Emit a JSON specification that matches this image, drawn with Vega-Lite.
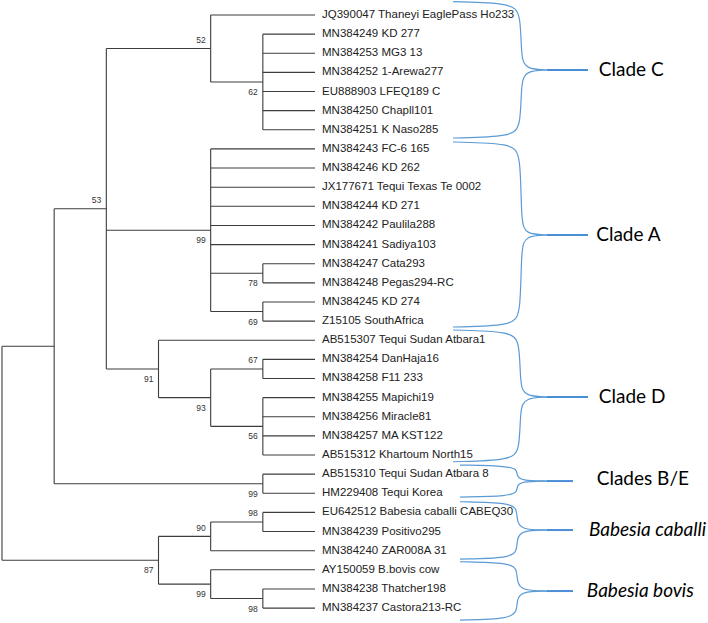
{
  "$schema": "https://vega.github.io/schema/vega-lite/v6.json",
  "width": 708,
  "height": 623,
  "autosize": {"type": "none"},
  "padding": 0,
  "background": "white",
  "config": {"view": {"stroke": null}},
  "datasets": {
    "branches": [
      {"x0":0,"x1":0,"y0":17.3125,"y1":28.5},{"x0":1,"x1":1,"y0":10.125,"y1":24.5},{"x0":2,"x1":2,"y0":1.75,"y1":18.5},
      {"x0":4,"x1":4,"y0":0,"y1":3.5},{"x0":5,"x1":5,"y0":1,"y1":6},{"x0":4,"x1":4,"y0":7,"y1":15.5},
      {"x0":5,"x1":5,"y0":13,"y1":14},{"x0":5,"x1":5,"y0":15,"y1":16},{"x0":3,"x1":3,"y0":17,"y1":20},
      {"x0":4,"x1":4,"y0":18.5,"y1":21.5},{"x0":5,"x1":5,"y0":18,"y1":19},{"x0":5,"x1":5,"y0":20,"y1":23},
      {"x0":5,"x1":5,"y0":24,"y1":25},{"x0":3,"x1":3,"y0":27.25,"y1":29.75},{"x0":4,"x1":4,"y0":26.5,"y1":28},
      {"x0":5,"x1":5,"y0":26,"y1":27},{"x0":4,"x1":4,"y0":29,"y1":30.5},{"x0":5,"x1":5,"y0":30,"y1":31},
      {"x0":0,"x1":1,"y0":17.3125,"y1":17.3125},{"x0":0,"x1":3,"y0":28.5,"y1":28.5},{"x0":1,"x1":2,"y0":10.125,"y1":10.125},
      {"x0":1,"x1":5,"y0":24.5,"y1":24.5},{"x0":2,"x1":4,"y0":1.75,"y1":1.75},{"x0":2,"x1":4,"y0":11.25,"y1":11.25},
      {"x0":2,"x1":3,"y0":18.5,"y1":18.5},{"x0":4,"x1":6,"y0":0,"y1":0},{"x0":4,"x1":5,"y0":3.5,"y1":3.5},
      {"x0":5,"x1":6,"y0":1,"y1":1},{"x0":5,"x1":6,"y0":2,"y1":2},{"x0":5,"x1":6,"y0":3,"y1":3},
      {"x0":5,"x1":6,"y0":4,"y1":4},{"x0":5,"x1":6,"y0":5,"y1":5},{"x0":5,"x1":6,"y0":6,"y1":6},
      {"x0":4,"x1":6,"y0":7,"y1":7},{"x0":4,"x1":6,"y0":8,"y1":8},{"x0":4,"x1":6,"y0":9,"y1":9},
      {"x0":4,"x1":6,"y0":10,"y1":10},{"x0":4,"x1":6,"y0":11,"y1":11},{"x0":4,"x1":6,"y0":12,"y1":12},
      {"x0":4,"x1":5,"y0":13.5,"y1":13.5},{"x0":4,"x1":5,"y0":15.5,"y1":15.5},
      {"x0":5,"x1":6,"y0":13,"y1":13},{"x0":5,"x1":6,"y0":14,"y1":14},{"x0":5,"x1":6,"y0":15,"y1":15},{"x0":5,"x1":6,"y0":16,"y1":16},
      {"x0":3,"x1":6,"y0":17,"y1":17},{"x0":3,"x1":4,"y0":20,"y1":20},{"x0":4,"x1":5,"y0":18.5,"y1":18.5},{"x0":4,"x1":5,"y0":21.5,"y1":21.5},
      {"x0":5,"x1":6,"y0":18,"y1":18},{"x0":5,"x1":6,"y0":19,"y1":19},{"x0":5,"x1":6,"y0":20,"y1":20},
      {"x0":5,"x1":6,"y0":21,"y1":21},{"x0":5,"x1":6,"y0":22,"y1":22},{"x0":5,"x1":6,"y0":23,"y1":23},
      {"x0":5,"x1":6,"y0":24,"y1":24},{"x0":5,"x1":6,"y0":25,"y1":25},
      {"x0":3,"x1":4,"y0":27.25,"y1":27.25},{"x0":3,"x1":4,"y0":29.75,"y1":29.75},{"x0":4,"x1":5,"y0":26.5,"y1":26.5},
      {"x0":4,"x1":6,"y0":28,"y1":28},{"x0":5,"x1":6,"y0":26,"y1":26},{"x0":5,"x1":6,"y0":27,"y1":27},
      {"x0":4,"x1":6,"y0":29,"y1":29},{"x0":4,"x1":5,"y0":30.5,"y1":30.5},{"x0":5,"x1":6,"y0":30,"y1":30},{"x0":5,"x1":6,"y0":31,"y1":31}
    ],
    "leaves": [
      {"i":0,"depth":6,"name":"JQ390047 Thaneyi EaglePass Ho233"},
      {"i":1,"depth":6,"name":"MN384249 KD 277"},
      {"i":2,"depth":6,"name":"MN384253 MG3 13"},
      {"i":3,"depth":6,"name":"MN384252 1-Arewa277"},
      {"i":4,"depth":6,"name":"EU888903 LFEQ189 C"},
      {"i":5,"depth":6,"name":"MN384250 Chapll101"},
      {"i":6,"depth":6,"name":"MN384251 K Naso285"},
      {"i":7,"depth":6,"name":"MN384243 FC-6 165"},
      {"i":8,"depth":6,"name":"MN384246 KD 262"},
      {"i":9,"depth":6,"name":"JX177671 Tequi Texas Te 0002"},
      {"i":10,"depth":6,"name":"MN384244 KD 271"},
      {"i":11,"depth":6,"name":"MN384242 Paulila288"},
      {"i":12,"depth":6,"name":"MN384241 Sadiya103"},
      {"i":13,"depth":6,"name":"MN384247 Cata293"},
      {"i":14,"depth":6,"name":"MN384248 Pegas294-RC"},
      {"i":15,"depth":6,"name":"MN384245 KD 274"},
      {"i":16,"depth":6,"name":"Z15105 SouthAfrica"},
      {"i":17,"depth":6,"name":"AB515307 Tequi Sudan Atbara1"},
      {"i":18,"depth":6,"name":"MN384254 DanHaja16"},
      {"i":19,"depth":6,"name":"MN384258 F11 233"},
      {"i":20,"depth":6,"name":"MN384255 Mapichi19"},
      {"i":21,"depth":6,"name":"MN384256 Miracle81"},
      {"i":22,"depth":6,"name":"MN384257 MA KST122"},
      {"i":23,"depth":6,"name":"AB515312 Khartoum North15"},
      {"i":24,"depth":6,"name":"AB515310 Tequi Sudan Atbara 8"},
      {"i":25,"depth":6,"name":"HM229408 Tequi Korea"},
      {"i":26,"depth":6,"name":"EU642512 Babesia caballi CABEQ30"},
      {"i":27,"depth":6,"name":"MN384239 Positivo295"},
      {"i":28,"depth":6,"name":"MN384240 ZAR008A 31"},
      {"i":29,"depth":6,"name":"AY150059 B.bovis cow"},
      {"i":30,"depth":6,"name":"MN384238 Thatcher198"},
      {"i":31,"depth":6,"name":"MN384237 Castora213-RC"}
    ],
    "support": [
      {"bs":"52","d":4,"y":1.75,"side":"above"},
      {"bs":"62","d":5,"y":3.5,"side":"below"},
      {"bs":"53","d":2,"y":10.125,"side":"above"},
      {"bs":"99","d":4,"y":11.25,"side":"below"},
      {"bs":"78","d":5,"y":13.5,"side":"below"},
      {"bs":"69","d":5,"y":15.5,"side":"below"},
      {"bs":"91","d":3,"y":18.5,"side":"below"},
      {"bs":"67","d":5,"y":18.5,"side":"above"},
      {"bs":"93","d":4,"y":20,"side":"below"},
      {"bs":"56","d":5,"y":21.5,"side":"below"},
      {"bs":"99","d":5,"y":24.5,"side":"below"},
      {"bs":"98","d":5,"y":26.5,"side":"above"},
      {"bs":"90","d":4,"y":27.25,"side":"above"},
      {"bs":"87","d":3,"y":28.5,"side":"below"},
      {"bs":"99","d":4,"y":29.75,"side":"below"},
      {"bs":"98","d":5,"y":30.5,"side":"below"}
    ],
    "braces": [
      {"b":"C1","o":0,"x":8.645,"y":-0.695},{"b":"C1","o":1,"x":9.776,"y":-0.627},{"b":"C1","o":2,"x":9.948,"y":-0.052},{"b":"C1","o":3,"x":9.948,"y":2.248},{"b":"C1","o":4,"x":10.044,"y":2.823},{"b":"C1","o":5,"x":10.447,"y":2.875},
      {"b":"C2","o":0,"x":10.447,"y":2.875},{"b":"C2","o":1,"x":10.044,"y":2.927},{"b":"C2","o":2,"x":9.948,"y":3.502},{"b":"C2","o":3,"x":9.948,"y":5.802},{"b":"C2","o":4,"x":9.776,"y":6.362},{"b":"C2","o":5,"x":8.645,"y":6.43},
      {"b":"A1","o":0,"x":8.645,"y":6.639},{"b":"A1","o":1,"x":9.776,"y":6.707},{"b":"A1","o":2,"x":9.948,"y":7.266},{"b":"A1","o":3,"x":9.948,"y":10.873},{"b":"A1","o":4,"x":10.044,"y":11.448},{"b":"A1","o":5,"x":10.447,"y":11.5},
      {"b":"A2","o":0,"x":10.447,"y":11.5},{"b":"A2","o":1,"x":10.044,"y":11.552},{"b":"A2","o":2,"x":9.948,"y":12.127},{"b":"A2","o":3,"x":9.948,"y":15.682},{"b":"A2","o":4,"x":9.776,"y":16.241},{"b":"A2","o":5,"x":8.645,"y":16.309},
      {"b":"D1","o":0,"x":8.645,"y":16.466},{"b":"D1","o":1,"x":9.757,"y":16.534},{"b":"D1","o":2,"x":9.929,"y":17.093},{"b":"D1","o":3,"x":9.929,"y":19.341},{"b":"D1","o":4,"x":10.025,"y":19.916},{"b":"D1","o":5,"x":10.447,"y":19.969},
      {"b":"D2","o":0,"x":10.447,"y":19.969},{"b":"D2","o":1,"x":10.025,"y":20.021},{"b":"D2","o":2,"x":9.929,"y":20.596},{"b":"D2","o":3,"x":9.929,"y":22.739},{"b":"D2","o":4,"x":9.757,"y":23.283},{"b":"D2","o":5,"x":8.645,"y":23.351},
      {"b":"BE1","o":0,"x":8.779,"y":23.523},{"b":"BE1","o":1,"x":9.738,"y":23.576},{"b":"BE1","o":2,"x":9.872,"y":23.785},{"b":"BE1","o":3,"x":9.872,"y":24.099},{"b":"BE1","o":4,"x":9.948,"y":24.334},{"b":"BE1","o":5,"x":10.447,"y":24.36},
      {"b":"BE2","o":0,"x":10.447,"y":24.36},{"b":"BE2","o":1,"x":9.948,"y":24.386},{"b":"BE2","o":2,"x":9.872,"y":24.621},{"b":"BE2","o":3,"x":9.872,"y":24.935},{"b":"BE2","o":4,"x":9.738,"y":25.144},{"b":"BE2","o":5,"x":8.779,"y":25.196},
      {"b":"CB1","o":0,"x":8.779,"y":25.442},{"b":"CB1","o":1,"x":9.738,"y":25.494},{"b":"CB1","o":2,"x":9.872,"y":25.823},{"b":"CB1","o":3,"x":9.872,"y":26.45},{"b":"CB1","o":4,"x":9.948,"y":26.895},{"b":"CB1","o":5,"x":10.447,"y":26.921},
      {"b":"CB2","o":0,"x":10.447,"y":26.921},{"b":"CB2","o":1,"x":9.948,"y":26.947},{"b":"CB2","o":2,"x":9.872,"y":27.391},{"b":"CB2","o":3,"x":9.872,"y":28.019},{"b":"CB2","o":4,"x":9.738,"y":28.385},{"b":"CB2","o":5,"x":8.779,"y":28.437},
      {"b":"BV1","o":0,"x":8.779,"y":28.578},{"b":"BV1","o":1,"x":9.738,"y":28.631},{"b":"BV1","o":2,"x":9.872,"y":28.96},{"b":"BV1","o":3,"x":9.872,"y":29.587},{"b":"BV1","o":4,"x":9.948,"y":30.084},{"b":"BV1","o":5,"x":10.447,"y":30.11},
      {"b":"BV2","o":0,"x":10.447,"y":30.11},{"b":"BV2","o":1,"x":9.948,"y":30.136},{"b":"BV2","o":2,"x":9.872,"y":30.58},{"b":"BV2","o":3,"x":9.872,"y":31.155},{"b":"BV2","o":4,"x":9.738,"y":31.573},{"b":"BV2","o":5,"x":8.779,"y":31.625}
    ],
    "tips": [
      {"c":"C","x0":10.447,"x1":11.233,"y":2.875},
      {"c":"A","x0":10.447,"x1":11.233,"y":11.5},
      {"c":"D","x0":10.447,"x1":11.233,"y":19.969},
      {"c":"BE","x0":10.447,"x1":10.945,"y":24.36},
      {"c":"CB","x0":10.447,"x1":10.945,"y":26.921},
      {"c":"BV","x0":10.447,"x1":10.945,"y":30.11}
    ],
    "clades": [
      {"t":"Clade C","x":11.44,"y":2.875,"g":"genotype"},
      {"t":"Clade A","x":11.39,"y":11.5,"g":"genotype"},
      {"t":"Clade D","x":11.44,"y":19.969,"g":"genotype"},
      {"t":"Clades B/E","x":11.4,"y":24.25,"g":"genotype"},
      {"t":"Babesia caballi","x":11.25,"y":26.92,"g":"species"},
      {"t":"Babesia bovis","x":11.21,"y":30.11,"g":"species"}
    ]
  },
  "layer": [
    {
      "data": {"name": "braces"},
      "mark": {"type": "line", "interpolate": "basis", "stroke": "#5b9bd5", "strokeWidth": 1.2},
      "encoding": {
        "x": {"field": "x", "type": "quantitative", "scale": {"domain": [-0.0383, 13.533], "nice": false, "zero": false}, "axis": null},
        "y": {"field": "y", "type": "quantitative", "scale": {"domain": [-0.784, 31.78], "reverse": true, "nice": false, "zero": false}, "axis": null},
        "detail": {"field": "b"},
        "order": {"field": "o", "type": "quantitative"}
      }
    },
    {
      "data": {"name": "tips"},
      "mark": {"type": "rule", "stroke": "#4a8fd6", "strokeWidth": 2},
      "encoding": {
        "x": {"field": "x0", "type": "quantitative", "scale": {"domain": [-0.0383, 13.533], "nice": false, "zero": false}, "axis": null},
        "x2": {"field": "x1"},
        "y": {"field": "y", "type": "quantitative", "scale": {"domain": [-0.784, 31.78], "reverse": true, "nice": false, "zero": false}, "axis": null}
      }
    },
    {
      "data": {"name": "branches"},
      "mark": {"type": "rule", "stroke": "#3c3c3c", "strokeWidth": 1.1},
      "encoding": {
        "x": {"field": "x0", "type": "quantitative", "scale": {"domain": [-0.0383, 13.533], "nice": false, "zero": false}, "axis": null},
        "x2": {"field": "x1"},
        "y": {"field": "y0", "type": "quantitative", "scale": {"domain": [-0.784, 31.78], "reverse": true, "nice": false, "zero": false}, "axis": null},
        "y2": {"field": "y1"}
      }
    },
    {
      "data": {"name": "leaves"},
      "mark": {"type": "text", "align": "left", "baseline": "middle", "dx": 7, "font": "Liberation Sans", "fontSize": 11.5, "fill": "#222222"},
      "encoding": {
        "x": {"field": "depth", "type": "quantitative", "scale": {"domain": [-0.0383, 13.533], "nice": false, "zero": false}, "axis": null},
        "y": {"field": "i", "type": "quantitative", "scale": {"domain": [-0.784, 31.78], "reverse": true, "nice": false, "zero": false}, "axis": null},
        "text": {"field": "name"}
      }
    },
    {
      "data": {"name": "support"},
      "transform": [{"filter": "datum.side === 'above'"}],
      "mark": {"type": "text", "align": "right", "baseline": "middle", "dx": -5, "dy": -8.5, "font": "Liberation Sans", "fontSize": 8.5, "fill": "#333333"},
      "encoding": {
        "x": {"field": "d", "type": "quantitative", "scale": {"domain": [-0.0383, 13.533], "nice": false, "zero": false}, "axis": null},
        "y": {"field": "y", "type": "quantitative", "scale": {"domain": [-0.784, 31.78], "reverse": true, "nice": false, "zero": false}, "axis": null},
        "text": {"field": "bs"}
      }
    },
    {
      "data": {"name": "support"},
      "transform": [{"filter": "datum.side === 'below'"}],
      "mark": {"type": "text", "align": "right", "baseline": "middle", "dx": -5, "dy": 10, "font": "Liberation Sans", "fontSize": 8.5, "fill": "#333333"},
      "encoding": {
        "x": {"field": "d", "type": "quantitative", "scale": {"domain": [-0.0383, 13.533], "nice": false, "zero": false}, "axis": null},
        "y": {"field": "y", "type": "quantitative", "scale": {"domain": [-0.784, 31.78], "reverse": true, "nice": false, "zero": false}, "axis": null},
        "text": {"field": "bs"}
      }
    },
    {
      "data": {"name": "clades"},
      "transform": [{"filter": "datum.g === 'genotype'"}],
      "mark": {"type": "text", "align": "left", "baseline": "middle", "font": "Lato", "fontSize": 19, "fill": "#000000"},
      "encoding": {
        "x": {"field": "x", "type": "quantitative", "scale": {"domain": [-0.0383, 13.533], "nice": false, "zero": false}, "axis": null},
        "y": {"field": "y", "type": "quantitative", "scale": {"domain": [-0.784, 31.78], "reverse": true, "nice": false, "zero": false}, "axis": null},
        "text": {"field": "t"}
      }
    },
    {
      "data": {"name": "clades"},
      "transform": [{"filter": "datum.g === 'species'"}],
      "mark": {"type": "text", "align": "left", "baseline": "middle", "font": "Lato", "fontStyle": "italic", "fontSize": 19, "fill": "#000000"},
      "encoding": {
        "x": {"field": "x", "type": "quantitative", "scale": {"domain": [-0.0383, 13.533], "nice": false, "zero": false}, "axis": null},
        "y": {"field": "y", "type": "quantitative", "scale": {"domain": [-0.784, 31.78], "reverse": true, "nice": false, "zero": false}, "axis": null},
        "text": {"field": "t"}
      }
    }
  ]
}
